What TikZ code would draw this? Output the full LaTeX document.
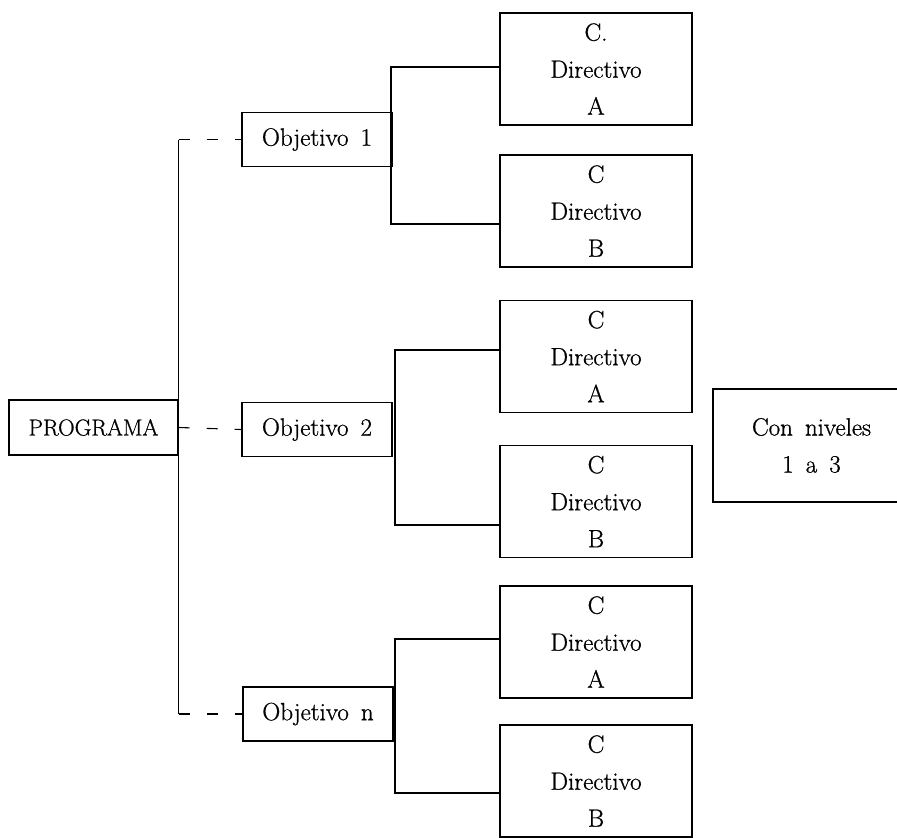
\documentclass[tikz,border=0pt]{standalone}
\usepackage{fontspec}
\setmainfont{Latin Modern Roman}[WordSpace=1.6, FakeBold=0.8]
\usepackage{tikz}
\usetikzlibrary{calc}

\tikzset{
  caja/.style={draw, line width=1.4pt, align=center, inner sep=0pt,
    font=\fontsize{25}{37}\selectfont},
  cajaobj/.style={caja, minimum width=150pt, minimum height=54pt},
  cajadir/.style={caja, minimum width=192pt, minimum height=112pt},
  enlace/.style={line width=1.1pt},
  guion/.style={enlace, dash pattern=on 11pt off 17pt}
}

\begin{document}
\begin{tikzpicture}[x=1pt,y=-1pt]
  \useasboundingbox (0,0) rectangle (897,838);
  \clip (0,0) rectangle (897,838);

  \node[caja, minimum width=169pt, minimum height=55pt, font=\fontsize{23}{37}\selectfont] (prog) at (93.5,427.5) {PROGRAMA};

  \node[cajaobj] (obj1) at (317,139.5) {Objetivo 1};
  \node[cajaobj] (obj2) at (317,429.5) {Objetivo 2};
  \node[cajaobj] (obj3) at (318,714) {Objetivo n};

  \node[cajadir] (dir1a) at (596,69)    {C.\\Directivo\\A};
  \node[cajadir] (dir1b) at (596,211)   {C\\Directivo\\B};
  \node[cajadir] (dir2a) at (596,356.5) {C\\Directivo\\A};
  \node[cajadir] (dir2b) at (596,501.5) {C\\Directivo\\B};
  \node[cajadir] (dir3a) at (596,642)   {C\\Directivo\\A};
  \node[cajadir] (dir3b) at (596,781)   {C\\Directivo\\B};

  \node[caja, minimum width=197pt, minimum height=113pt] (niv) at (811.5,445.5) {Con niveles\\1 a 3};

  \coordinate (r1a) at (391,67);
  \coordinate (r1b) at (391,224);
  \coordinate (r2a) at (395,350);
  \coordinate (r2b) at (395,525);
  \coordinate (r3a) at (395,639);
  \coordinate (r3b) at (395,793);

  \draw[enlace] (prog.east |- obj1.west) -- (prog.east |- obj3.west);
  \draw[guion] (prog.east |- obj1.west) -- (obj1.west);
  \draw[guion] (prog.east) -- (obj2.west);
  \draw[guion] (prog.east |- obj3.west) -- (obj3.west);

  \foreach \i in {1,2,3}
    \draw[enlace] (dir\i a.west |- r\i a) -- (r\i a) -- (r\i b) -- (dir\i b.west |- r\i b);
\end{tikzpicture}
\end{document}
